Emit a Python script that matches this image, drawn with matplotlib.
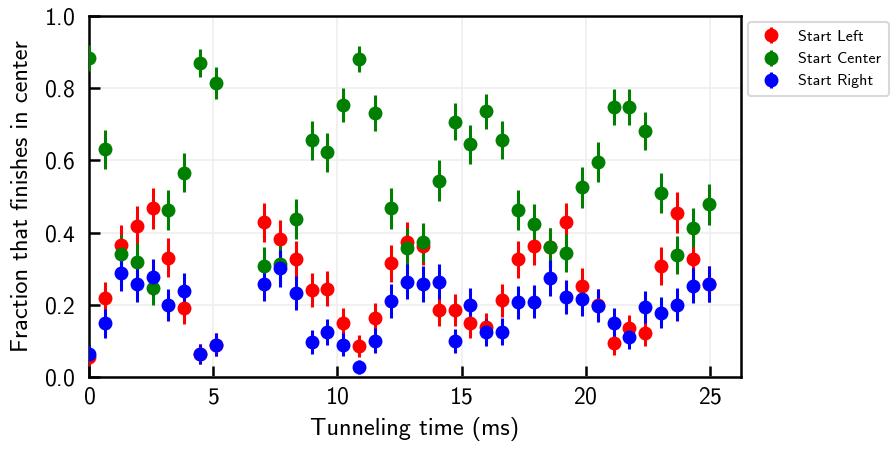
import numpy as np
import matplotlib
matplotlib.use("Agg")
import matplotlib.pyplot as plt

# ---------------- Data ----------------
# tunneling times (ms), 0.64 ms steps, two steps missing around 6 ms
time_ms = [0.00, 0.64, 1.28, 1.92, 2.56, 3.20, 3.84, 4.48, 5.12,
           7.04, 7.68, 8.32, 8.96, 9.60, 10.24, 10.88, 11.52, 12.16, 12.80,
           13.44, 14.08, 14.72, 15.36, 16.00, 16.64, 17.28, 17.92, 18.56, 19.20,
           19.84, 20.48, 21.12, 21.76, 22.40, 23.04, 23.68, 24.32, 24.96]

start_left = [0.055, 0.218, 0.366, 0.419, 0.467, 0.331, 0.190, 0.064, 0.090,
              0.428, 0.382, 0.326, 0.241, 0.245, 0.150, 0.086, 0.164, 0.315, 0.375,
              0.364, 0.186, 0.186, 0.149, 0.138, 0.213, 0.326, 0.363, 0.360, 0.428,
              0.253, 0.200, 0.095, 0.135, 0.121, 0.307, 0.455, 0.326, 0.258]
start_center = [0.883, 0.631, 0.340, 0.318, 0.248, 0.463, 0.566, 0.869, 0.813,
                0.307, 0.313, 0.438, 0.655, 0.622, 0.753, 0.881, 0.730, 0.467, 0.358,
                0.373, 0.544, 0.707, 0.644, 0.735, 0.657, 0.463, 0.423, 0.359, 0.343,
                0.525, 0.595, 0.747, 0.747, 0.681, 0.509, 0.338, 0.414, 0.478]
start_right = [0.063, 0.149, 0.289, 0.258, 0.278, 0.199, 0.239, 0.064, 0.090,
               0.259, 0.301, 0.232, 0.098, 0.125, 0.090, 0.029, 0.101, 0.211, 0.264,
               0.258, 0.264, 0.100, 0.201, 0.124, 0.126, 0.207, 0.209, 0.275, 0.223,
               0.215, 0.198, 0.151, 0.112, 0.193, 0.178, 0.201, 0.253, 0.258]

# error bars (one sigma)
err_left = [0.025, 0.046, 0.054, 0.055, 0.056, 0.053, 0.044, 0.027, 0.032,
            0.055, 0.054, 0.052, 0.048, 0.048, 0.040, 0.031, 0.041, 0.052, 0.054,
            0.054, 0.044, 0.044, 0.040, 0.039, 0.046, 0.052, 0.054, 0.054, 0.055,
            0.049, 0.045, 0.033, 0.038, 0.036, 0.052, 0.056, 0.052, 0.049]
err_center = [0.036, 0.054, 0.053, 0.052, 0.048, 0.056, 0.055, 0.038, 0.044,
              0.052, 0.052, 0.055, 0.053, 0.054, 0.048, 0.036, 0.050, 0.056, 0.054,
              0.054, 0.056, 0.051, 0.054, 0.049, 0.053, 0.056, 0.055, 0.054, 0.053,
              0.056, 0.055, 0.049, 0.049, 0.052, 0.056, 0.053, 0.055, 0.056]
err_right = [0.027, 0.040, 0.051, 0.049, 0.050, 0.045, 0.048, 0.027, 0.032,
             0.049, 0.051, 0.047, 0.033, 0.037, 0.032, 0.019, 0.034, 0.046, 0.049,
             0.049, 0.049, 0.034, 0.045, 0.037, 0.037, 0.045, 0.045, 0.050, 0.047,
             0.046, 0.045, 0.040, 0.035, 0.044, 0.043, 0.045, 0.049, 0.049]

series = [
    ("Start Left", start_left, err_left, "red"),
    ("Start Center", start_center, err_center, "green"),
    ("Start Right", start_right, err_right, "blue"),
]

# ---------------- Plot ----------------
plt.rcParams['font.family'] = ['cmss10', 'DejaVu Sans']
plt.rcParams['axes.formatter.use_mathtext'] = True

fig = plt.figure(figsize=(8.96, 4.49), dpi=100)
ax = fig.add_axes([0.0993, 0.160, 0.7277, 0.805])

for name, vals, errs, color in series:
    ax.errorbar(time_ms, vals, yerr=errs, fmt='o', color=color, ms=9,
                elinewidth=2.2, capsize=0, label=name, zorder=3)

ax.set_xlim(0, 26.25)
ax.set_ylim(0, 1.0)
ax.set_xticks([0, 5, 10, 15, 20, 25])
ax.set_yticks([0.0, 0.2, 0.4, 0.6, 0.8, 1.0])
ax.grid(True, color='#efefef', linewidth=1.2, zorder=0)
ax.set_axisbelow(True)

for sp in ax.spines.values():
    sp.set_linewidth(1.8)
ax.tick_params(direction='in', length=8, width=1.8, labelsize=17)
ax.tick_params(axis='y', pad=10)
ax.tick_params(axis='x', pad=7)

ax.set_xlabel("Tunneling time (ms)", fontsize=17.5, labelpad=6)
ax.set_ylabel("Fraction that finishes in center", fontsize=17.5, labelpad=8)

leg = ax.legend(loc='upper left', bbox_to_anchor=(1.011, 0.983), fontsize=11.5,
                frameon=True, fancybox=True, borderpad=0.5, borderaxespad=0,
                handletextpad=0.8, labelspacing=0.5, handlelength=1.8)
leg.get_frame().set_edgecolor('#d0d0d0')
leg.get_frame().set_linewidth(1.5)

fig.savefig("out.png", dpi=100)
